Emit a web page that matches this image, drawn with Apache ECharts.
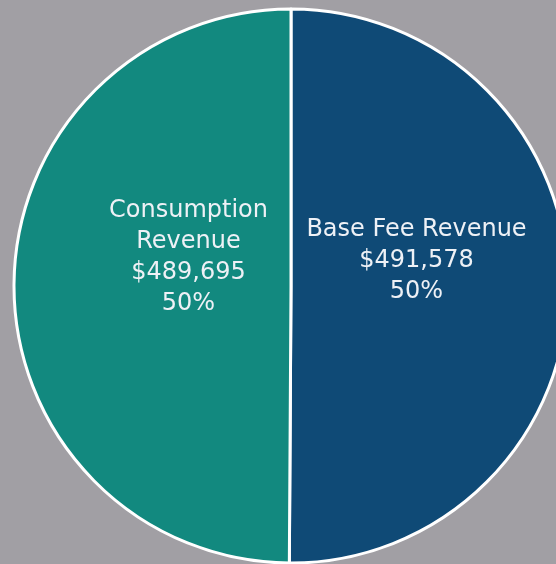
<!DOCTYPE html>
<html>
<head>
<meta charset="utf-8">
<script src="https://cdn.jsdelivr.net/npm/echarts@6/dist/echarts.min.js"></script>
<style>
  html, body { margin: 0; padding: 0; background: #a19fa4; }
  #revenuePie { width: 556px; height: 564px; }
</style>
</head>
<body>
<div id="revenuePie"></div>
<script>
// 数据
var categories = ['Base Fee Revenue', 'Consumption Revenue'];
var values = [491578, 489695];
var labelNames = ['Base Fee Revenue', 'Consumption\nRevenue'];
var sliceColors = ['#0f4a76', '#12897f'];
var labelOffsets = [[-16, -26], [39, -28]];

function fmtMoney(v) {
    return '$' + v.toString().replace(/\B(?=(\d{3})+(?!\d))/g, ',');
}

// 饼形图开始
function myCharpie() {
    var dom = document.getElementById('revenuePie');
    var myChart = echarts.init(dom);
    var pieData = [];
    for (var i = 0; i < categories.length; i++) {
        pieData.push({
            name: categories[i],
            value: values[i],
            itemStyle: { color: sliceColors[i] },
            label: { offset: labelOffsets[i] }
        });
    }
    var option = {
        backgroundColor: '#a19fa4',
        animation: false,
        series: [{
            type: 'pie',
            center: [291, 286],
            radius: 277,
            startAngle: 90,
            clockwise: true,
            avoidLabelOverlap: false,
            itemStyle: {
                borderColor: '#ffffff',
                borderWidth: 3
            },
            label: {
                show: true,
                position: 'inside',
                color: '#eef1f6',
                fontFamily: 'DejaVu Sans',
                fontSize: 24,
                lineHeight: 31,
                align: 'center',
                formatter: function (p) {
                    return labelNames[p.dataIndex] + '\n' + fmtMoney(p.value) + '\n' + Math.round(p.percent) + '%';
                }
            },
            labelLine: { show: false },
            emphasis: { disabled: true },
            data: pieData
        }]
    };
    myChart.setOption(option, true);
}
// 饼形图结束

myCharpie();
</script>
</body>
</html>
